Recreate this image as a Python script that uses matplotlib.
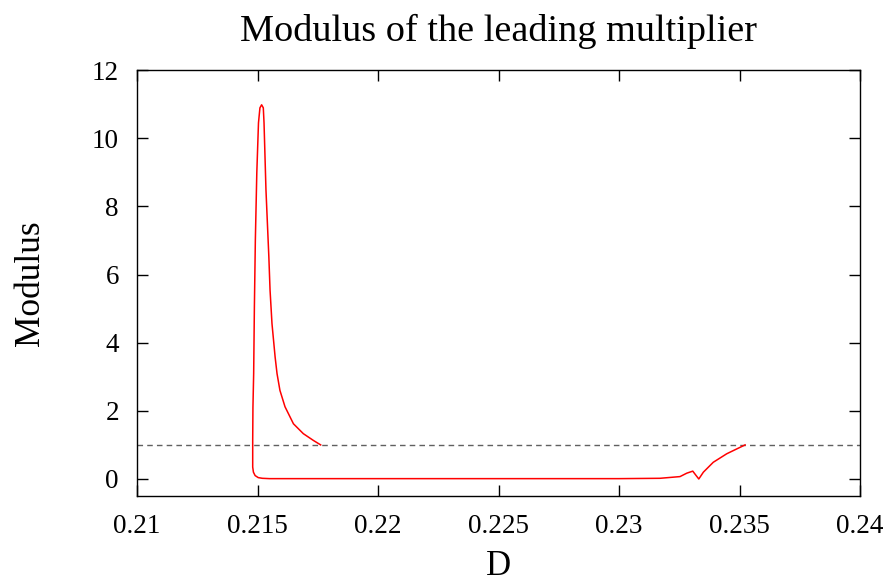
import numpy as np
import matplotlib.pyplot as plt

plt.rcParams['font.family'] = ['Liberation Serif', 'DejaVu Serif']

# leading multiplier along the continuation branch
D = [0.23523, 0.23447, 0.23391, 0.23350, 0.23331, 0.23320, 0.23306, 0.23281,
     0.23253, 0.23170, 0.2300, 0.2250, 0.2200, 0.2170, 0.2160, 0.2155,
     0.21550, 0.21520, 0.21503, 0.21490, 0.21483, 0.21480, 0.21480, 0.21481,
     0.21484, 0.21487, 0.21491, 0.21497, 0.21504, 0.21510, 0.21517, 0.21524,
     0.21527, 0.21531, 0.21535, 0.21541, 0.21547, 0.21552, 0.21560, 0.21573,
     0.21581, 0.21593, 0.21614, 0.21649, 0.21690, 0.21732, 0.21762]
modulus = [1.00, 0.74, 0.49, 0.20, 0.00, 0.10, 0.23, 0.17,
           0.07, 0.02, 0.01, 0.01, 0.01, 0.01, 0.01, 0.01,
           0.01, 0.02, 0.04, 0.10, 0.20, 0.35, 1.13, 2.10,
           3.09, 5.05, 7.01, 8.98, 10.45, 10.89, 10.98, 10.89,
           10.45, 9.47, 8.49, 7.50, 6.52, 5.54, 4.56, 3.58,
           3.09, 2.60, 2.12, 1.62, 1.33, 1.13, 1.00]

xticks = [0.21, 0.215, 0.22, 0.225, 0.23, 0.235, 0.24]
xlabels = ['0.21', '0.215', '0.22', '0.225', '0.23', '0.235', '0.24']
yticks = [0, 2, 4, 6, 8, 10, 12]

fig = plt.figure(figsize=(8.88, 5.85), dpi=100)
ax = fig.add_axes([0.1543, 0.1521, 0.8142, 0.7282])

ax.axhline(1.0, color='#606060', lw=1.0, ls=(0, (4, 3)))
ax.plot(D, modulus, color='red', lw=1.1)

ax.set_xlim(0.21, 0.24)
ax.set_ylim(-0.5, 12)
ax.set_xticks(xticks)
ax.set_xticklabels(xlabels)
ax.set_yticks(yticks)
ax.tick_params(direction='in', length=8, width=1, top=True, right=True,
               labelsize=19.5)
ax.tick_params(axis='x', pad=13)
ax.tick_params(axis='y', pad=13)
for s in ax.spines.values():
    s.set_linewidth(1.0)

ax.set_title('Modulus of the leading multiplier', fontsize=27.5, pad=21)
ax.set_xlabel('D', fontsize=25, labelpad=8)
ax.set_ylabel('Modulus', fontsize=25.5, labelpad=32)

fig.savefig('out.png', dpi=100)
